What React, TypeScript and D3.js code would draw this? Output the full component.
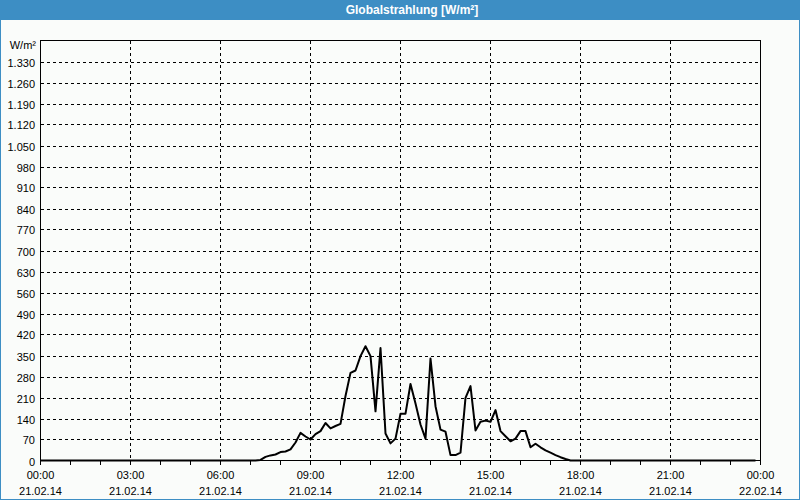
import React from "react";
import * as d3 from "d3";

const title = "Globalstrahlung [W/m²]";
const unitLabel = "W/m²";
const yTicks = [0, 70, 140, 210, 280, 350, 420, 490, 560, 630, 700, 770, 840, 910, 980, 1050, 1120, 1190, 1260, 1330];
const xTickHours = [0, 3, 6, 9, 12, 15, 18, 21, 24];
const xTimeLabels = ["00:00", "03:00", "06:00", "09:00", "12:00", "15:00", "18:00", "21:00", "00:00"];
const xDateLabels = ["21.02.14", "21.02.14", "21.02.14", "21.02.14", "21.02.14", "21.02.14", "21.02.14", "21.02.14", "22.02.14"];

// 10-minute values from 00:00 to 23:50 on 21.02.14
const radiation = [
  // 00:00 - 03:50
  0, 0, 0, 0, 0, 0, 0, 0, 0, 0, 0, 0,
  0, 0, 0, 0, 0, 0, 0, 0, 0, 0, 0, 0,
  // 04:00 - 07:50
  0, 0, 0, 0, 0, 0, 0, 0, 0, 0, 0, 0,
  0, 0, 0, 0, 0, 0, 0, 0, 2, 12, 17, 20,
  // 08:00 - 11:50
  28, 30, 37, 60, 92, 80, 70, 88, 98, 125, 107, 115,
  122, 215, 292, 300, 348, 381, 348, 164, 375, 90, 57, 73,
  // 12:00 - 15:50
  156, 156, 255, 190, 120, 73, 340, 181, 103, 96, 18, 18,
  26, 209, 248, 100, 129, 133, 129, 168, 98, 81, 64, 73,
  // 16:00 - 19:50
  98, 98, 44, 56, 44, 34, 26, 18, 11, 5, 0, 0,
  0, 0, 0, 0, 0, 0, 0, 0, 0, 0, 0, 0,
  // 20:00 - 23:50
  0, 0, 0, 0, 0, 0, 0, 0, 0, 0, 0, 0,
  0, 0, 0, 0, 0, 0, 0, 0, 0, 0, 0, 0,
];

const W = 800;
const H = 500;
const left = 40.5;
const right = 760.5;
const top = 40.5;
const bottom = 460.5;
const blue = "#3d8ec4";
const bg = "#fafcfa";
const font = "'Liberation Sans', Arial, sans-serif";

export default function App() {
  const x = d3.scaleLinear().domain([0, 24]).range([left, right]);
  const y = d3.scaleLinear().domain([0, 1400]).range([bottom, top]);
  const line = d3
    .line<number>()
    .x((_, i) => x((i * 10) / 60))
    .y((d) => y(d));
  const hours = d3.range(0, 25);

  return (
    <svg
      width={W}
      height={H}
      style={{ position: "absolute", left: 0, top: 0, display: "block" }}
    >
      <rect x={0} y={0} width={W} height={H} fill={bg} />
      <rect x={0} y={0} width={W} height={20} fill={blue} />
      <rect x={0.5} y={0.5} width={W - 1} height={H - 1} fill="none" stroke={blue} />
      <text
        x={412}
        y={14}
        textAnchor="middle"
        fill="#ffffff"
        fontFamily={font}
        fontSize={12}
        fontWeight="bold"
      >
        {title}
      </text>

      {/* horizontal grid */}
      {yTicks
        .filter((v) => v > 0)
        .map((v) => (
          <line
            key={"hg" + v}
            x1={left}
            x2={right}
            y1={Math.round(y(v)) + 0.5}
            y2={Math.round(y(v)) + 0.5}
            stroke="#000"
            strokeDasharray="3,3"
            shapeRendering="crispEdges"
          />
        ))}
      {/* vertical grid */}
      {xTickHours
        .filter((h) => h > 0 && h < 24)
        .map((h) => (
          <line
            key={"vg" + h}
            x1={x(h)}
            x2={x(h)}
            y1={top}
            y2={bottom}
            stroke="#000"
            strokeDasharray="3,3"
            shapeRendering="crispEdges"
          />
        ))}

      {/* hourly ticks */}
      {hours.map((h) => (
        <line
          key={"t" + h}
          x1={x(h)}
          x2={x(h)}
          y1={bottom}
          y2={bottom + 4}
          stroke="#000"
          shapeRendering="crispEdges"
        />
      ))}

      {/* frame */}
      <rect
        x={left}
        y={top}
        width={right - left}
        height={bottom - top}
        fill="none"
        stroke="#000"
        shapeRendering="crispEdges"
      />

      {/* data */}
      <path
        d={line(radiation) || ""}
        fill="none"
        stroke="#000"
        strokeWidth={2}
        strokeLinejoin="round"
      />

      {/* y labels */}
      <g fontFamily={font} fontSize={11} fill="#000" textAnchor="end">
        <text x={36} y={top + 8}>
          {unitLabel}
        </text>
        {yTicks.map((v) => (
          <text key={"yl" + v} x={35} y={Math.round(y(v)) + 4.5}>
            {v.toLocaleString("de-DE")}
          </text>
        ))}
      </g>

      {/* x labels */}
      <g fontFamily={font} fontSize={11} fill="#000" textAnchor="middle">
        {xTickHours.map((h, i) => (
          <g key={"xl" + h}>
            <text x={x(h)} y={479}>
              {xTimeLabels[i]}
            </text>
            <text x={x(h)} y={494.5}>
              {xDateLabels[i]}
            </text>
          </g>
        ))}
      </g>
    </svg>
  );
}
